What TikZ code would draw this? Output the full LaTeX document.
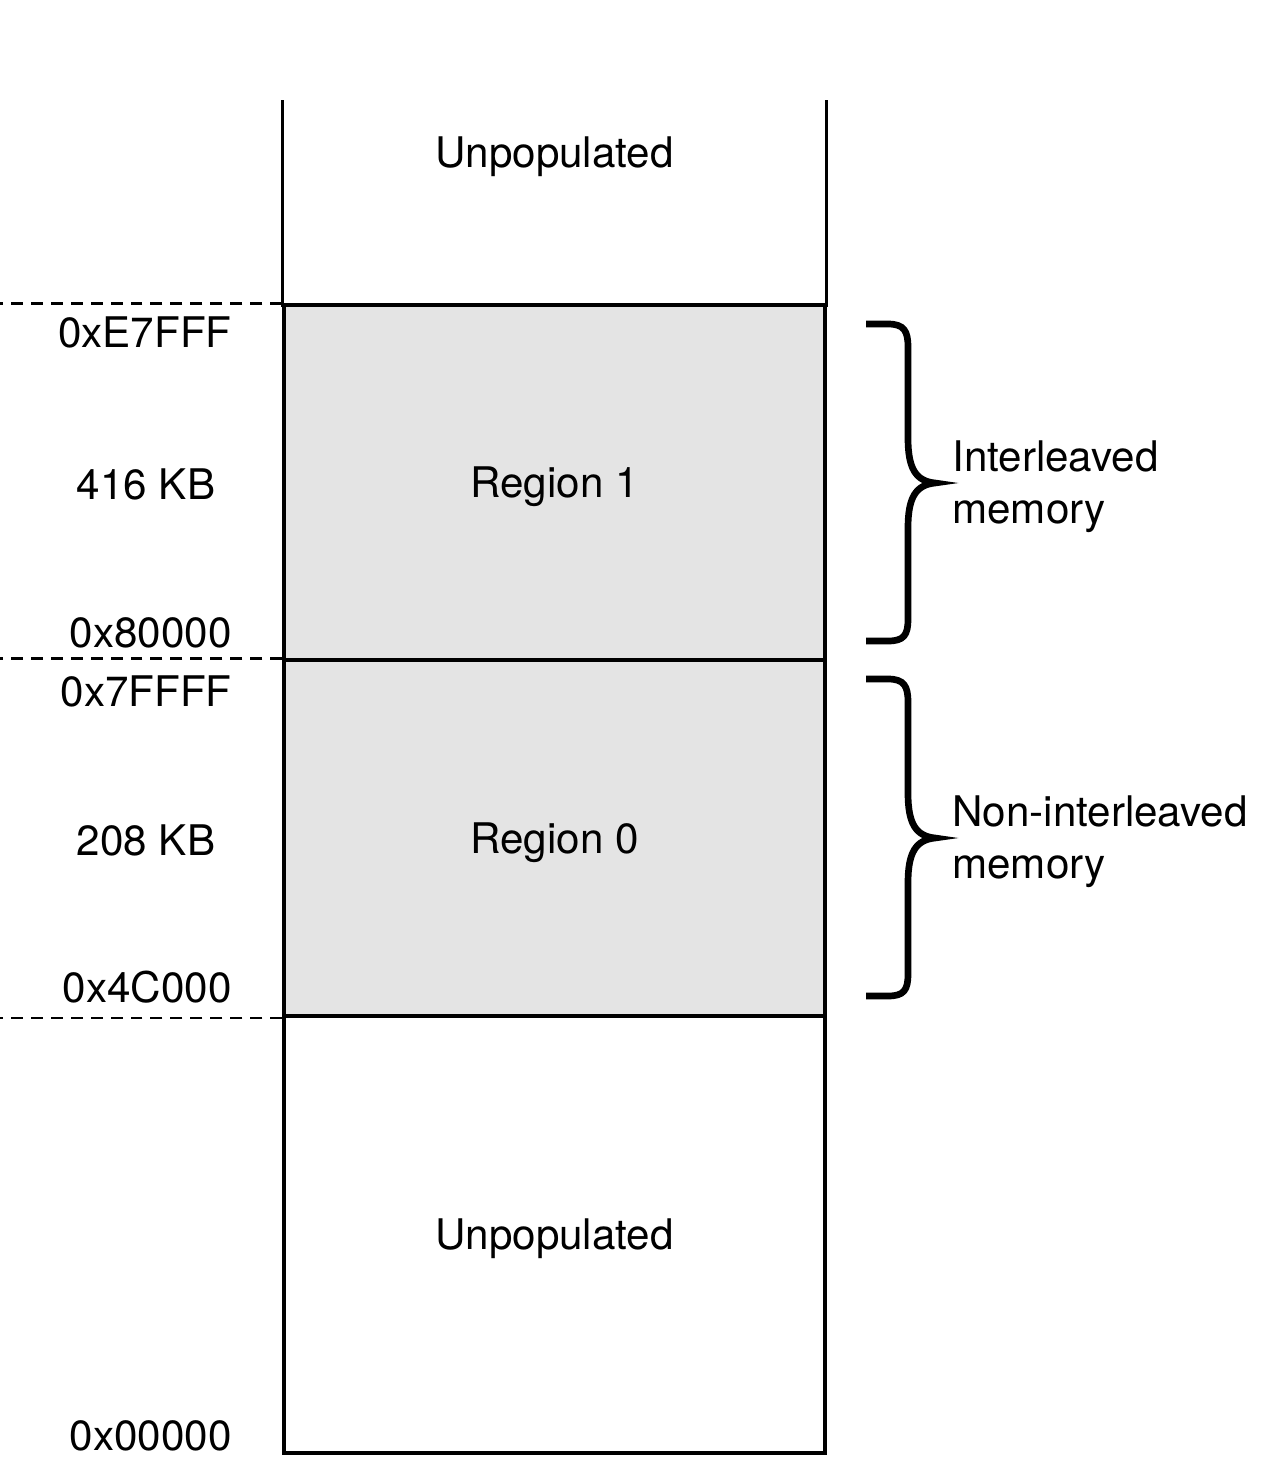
\documentclass[tikz,border=0pt]{standalone}
\usepackage{fontspec}
\setmainfont{TeX Gyre Heros}
\definecolor{regionfill}{RGB}{228,228,228}

\begin{document}
\begin{tikzpicture}[x=0.02cm, y=-0.02cm,
    memblock/.style={draw, line width=1.8pt, minimum width=10.82cm, inner sep=0pt,
        font=\fontsize{24}{29.5}\selectfont, text height=17.2pt, text depth=0pt},
    addr/.style={inner sep=0pt, font=\fontsize{24}{29.5}\selectfont, text height=17.2pt, text depth=0pt},
    dashline/.style={line width=1.2pt, dash pattern=on 0.24cm off 0.16cm},
    bracepath/.style={line width=3.8pt}]
    \useasboundingbox (0,0) rectangle (1269,1474);
    \coordinate (open) at (0,100);

    % the column
    \node[memblock, draw=none, minimum height=6.1cm] (top) at (554.5,152.5) {Unpopulated};
    \node[memblock, fill=regionfill, minimum height=7.1cm] (reg1) at (554.5,482.5) {Region 1};
    \node[memblock, fill=regionfill, minimum height=7.12cm] (reg0) at (554.5,838) {Region 0};
    \node[memblock, minimum height=8.74cm] (bottom) at (554.5,1234.5) {Unpopulated};
    \draw[line width=1.8pt] (top.south west |- open) -- (top.south west);
    \draw[line width=1.8pt] (top.south east |- open) -- (top.south east);

    % boundaries
    \draw[dashline] (reg1.north west) -- (reg1.north west -| open);
    \draw[dashline] (reg0.north west) -- (reg0.north west -| open);
    \draw[dashline] (reg0.south west) -- (reg0.south west -| open);

    % addresses and sizes
    \node[addr, anchor=east] (hexE7) at (232,332) {0xE7FFF};
    \node[addr] (size1) at (146,484) {416 KB};
    \node[addr, anchor=east] (hex80) at (232,632) {0x80000};
    \node[addr, anchor=east] (hex7F) at (232,691) {0x7FFFF};
    \node[addr] (size0) at (146,840) {208 KB};
    \node[addr, anchor=east] (hex4C) at (232,987) {0x4C000};
    \node[addr, anchor=east] (hex00) at (232,1435) {0x00000};

    % braces
    \foreach \m in {483,838} {
        \begin{scope}[shift={(0,\m)}]
            \draw[bracepath] (866,-159) -- (888,-159) .. controls (904,-159) and (908,-152) .. (908,-136)
                -- (908,-45) .. controls (908,-14) and (916,-2) .. (935,0)
                .. controls (916,2) and (908,14) .. (908,45)
                -- (908,136) .. controls (908,152) and (904,158) .. (888,158) -- (866,158);
        \end{scope}
    }
    \node[inner sep=0pt, anchor=west, align=left, font=\fontsize{24}{29.5}\selectfont] (inter) at (952,487) {Interleaved\\memory};
    \node[inner sep=0pt, anchor=west, align=left, font=\fontsize{24}{29.5}\selectfont] (noninter) at (952,842) {Non-interleaved\\memory};
\end{tikzpicture}
\end{document}
